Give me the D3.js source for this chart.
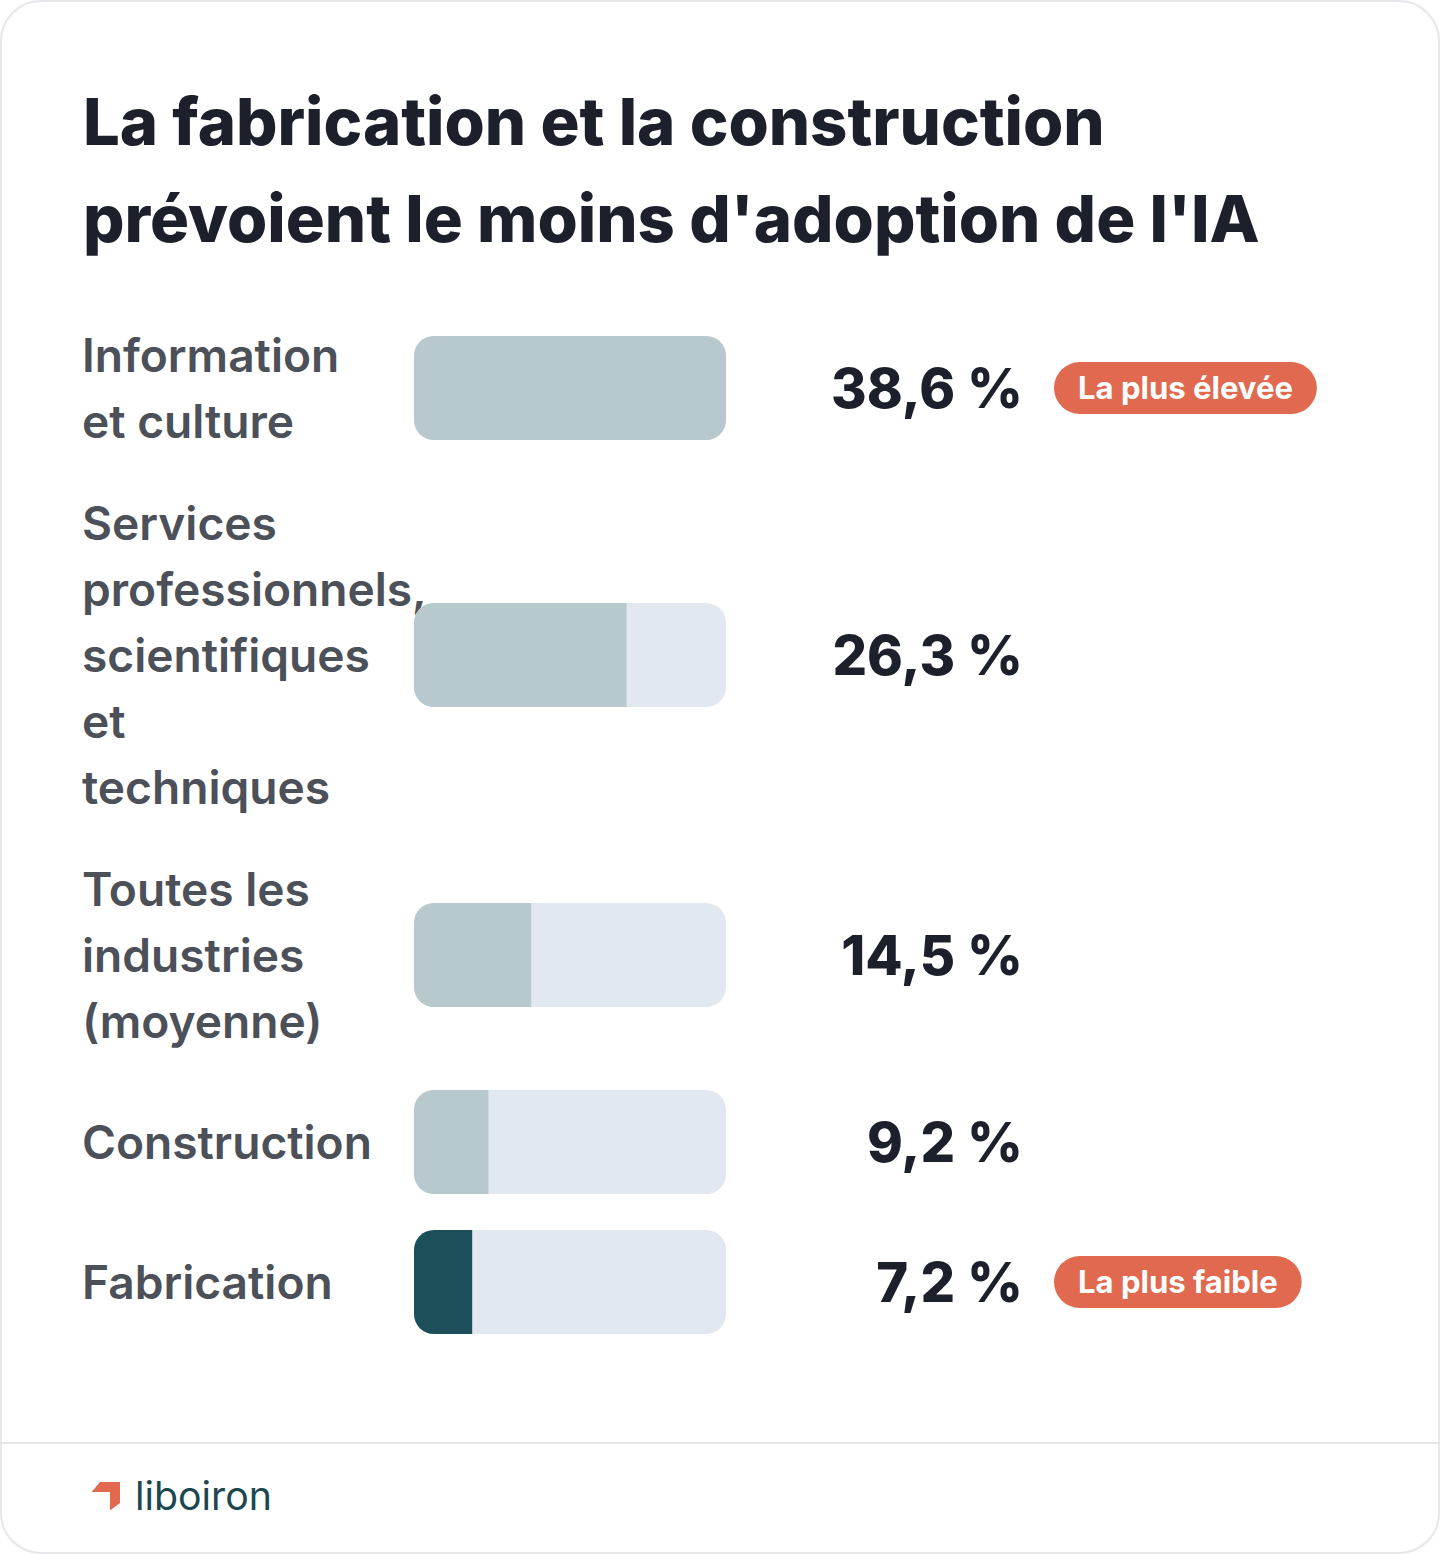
<!DOCTYPE html>
<html>
<head>
  <meta charset="utf-8">
  <title>Adoption de l'IA par industrie</title>
  <script src="https://d3js.org/d3.v7.min.js"></script>
  <style>
    body { margin: 0; background: #fff; }
    text { font-family: Inter, "Noto Sans", sans-serif; }
  </style>
</head>
<body>
<script>
  var w = 1440;
  var h = 1554;

  // data
  var titleLines = ["La fabrication et la construction", "prévoient le moins d'adoption de l'IA"];
  var categories = [
    ["Information", "et culture"],
    ["Services", "professionnels,", "scientifiques", "et", "techniques"],
    ["Toutes les", "industries", "(moyenne)"],
    ["Construction"],
    ["Fabrication"]
  ];
  var values = [38.6, 26.3, 14.5, 9.2, 7.2];
  var badges = ["La plus élevée", null, null, null, "La plus faible"];
  var highlighted = [false, false, false, false, true];
  var brand = "liboiron";

  var fr = d3.formatLocale({decimal: ",", thousands: "\u00a0", grouping: [3], currency: ["", " €"]});
  var fmt = function(v){ return fr.format(".1f")(v) + "\u00a0%"; };

  var svg = d3.select("body").append("svg").attr("width", w).attr("height", h);

  // measure a string at 100px and return the size that gives the wanted width
  function fitSize(str, weight, target){
    var t = svg.append("text").attr("font-size", 100).attr("font-weight", weight).text(str);
    var len = t.node().getComputedTextLength();
    t.remove();
    return 100 * target / len;
  }

  // card
  svg.append("rect")
    .attr("x", 1).attr("y", 1).attr("width", w - 2).attr("height", h - 2)
    .attr("rx", 40).attr("fill", "#fff").attr("stroke", "#e5e7eb").attr("stroke-width", 2);

  // title
  var titleSize = fitSize(titleLines[0], 800, 1022);
  svg.selectAll(".title").data(titleLines).enter().append("text")
    .attr("class", "title")
    .attr("x", 83)
    .attr("y", function(d, i){ return 145 + i * 97; })
    .attr("font-size", titleSize)
    .attr("font-weight", 800)
    .attr("fill", "#1b202b")
    .text(function(d){ return d; });

  // row layout: each row is as tall as its label block (or the bar)
  var lineH = 66, barH = 104, gap = 36;
  var rows = [];
  var y0 = 322;
  categories.forEach(function(c, i){
    var hh = Math.max(c.length * lineH, barH);
    rows.push({lines: c, value: values[i], badge: badges[i], hi: highlighted[i], cy: y0 + hh / 2, i: i});
    y0 += hh + gap;
  });

  var barX = 414, barW = 312;
  var x = d3.scaleLinear().domain([0, d3.max(values)]).range([0, barW]);

  var labelSize = fitSize("Construction", 600, 290);
  var valueSize = fitSize(fmt(38.6), 800, 192);
  var badgeSize = fitSize("La plus élevée", 700, 215);

  var defs = svg.append("defs");
  defs.selectAll("clipPath").data(rows).enter().append("clipPath")
    .attr("id", function(d){ return "clip" + d.i; })
    .append("rect")
    .attr("x", barX).attr("y", function(d){ return d.cy - barH / 2; })
    .attr("width", barW).attr("height", barH).attr("rx", 20);

  var row = svg.selectAll(".row").data(rows).enter().append("g").attr("class", "row");

  // labels
  row.each(function(d){
    var g = d3.select(this);
    var n = d.lines.length;
    g.selectAll("text.lab").data(d.lines).enter().append("text")
      .attr("class", "lab")
      .attr("x", 82)
      .attr("y", function(l, j){ return d.cy + (j - (n - 1) / 2) * lineH + labelSize * 0.36; })
      .attr("font-size", labelSize)
      .attr("font-weight", 600)
      .attr("fill", "#4b5059")
      .text(function(l){ return l; });
  });

  // track + fill
  row.append("rect")
    .attr("x", barX).attr("y", function(d){ return d.cy - barH / 2; })
    .attr("width", barW).attr("height", barH).attr("rx", 20)
    .attr("fill", "#e2e8f0");

  row.append("rect")
    .attr("clip-path", function(d){ return "url(#clip" + d.i + ")"; })
    .attr("x", barX).attr("y", function(d){ return d.cy - barH / 2; })
    .attr("width", function(d){ return x(d.value); }).attr("height", barH)
    .attr("fill", function(d){ return d.hi ? "#1d4f5a" : "#b7c9cc"; });

  // values
  row.append("text")
    .attr("x", 1023)
    .attr("y", function(d){ return d.cy + valueSize * 0.36; })
    .attr("text-anchor", "end")
    .attr("font-size", valueSize)
    .attr("font-weight", 800)
    .attr("fill", "#1b202b")
    .text(function(d){ return fmt(d.value); });

  // badges
  var b = row.filter(function(d){ return d.badge; }).append("g");
  b.append("text")
    .attr("class", "btxt")
    .attr("x", 1078)
    .attr("y", function(d){ return d.cy + badgeSize * 0.36; })
    .attr("font-size", badgeSize)
    .attr("font-weight", 700)
    .attr("fill", "#fff")
    .text(function(d){ return d.badge; });
  b.insert("rect", "text")
    .attr("x", 1054)
    .attr("y", function(d){ return d.cy - 26; })
    .attr("height", 52)
    .attr("rx", 26)
    .attr("width", function(){ return this.parentNode.querySelector("text").getComputedTextLength() + 48; })
    .attr("fill", "#e0694f");

  // footer
  svg.append("line")
    .attr("x1", 2).attr("x2", w - 2).attr("y1", 1443).attr("y2", 1443)
    .attr("stroke", "#e5e7eb").attr("stroke-width", 2);

  svg.append("path")
    .attr("d", "M100,1482 L120,1482 L120,1503 L110,1510.5 L110,1492 L91.5,1492 Z")
    .attr("fill", "#e0694f");

  svg.append("text")
    .attr("x", 135).attr("y", 1510)
    .attr("font-size", fitSize(brand, 400, 137))
    .attr("font-weight", 400)
    .attr("fill", "#1c4650")
    .text(brand);
</script>
</body>
</html>
